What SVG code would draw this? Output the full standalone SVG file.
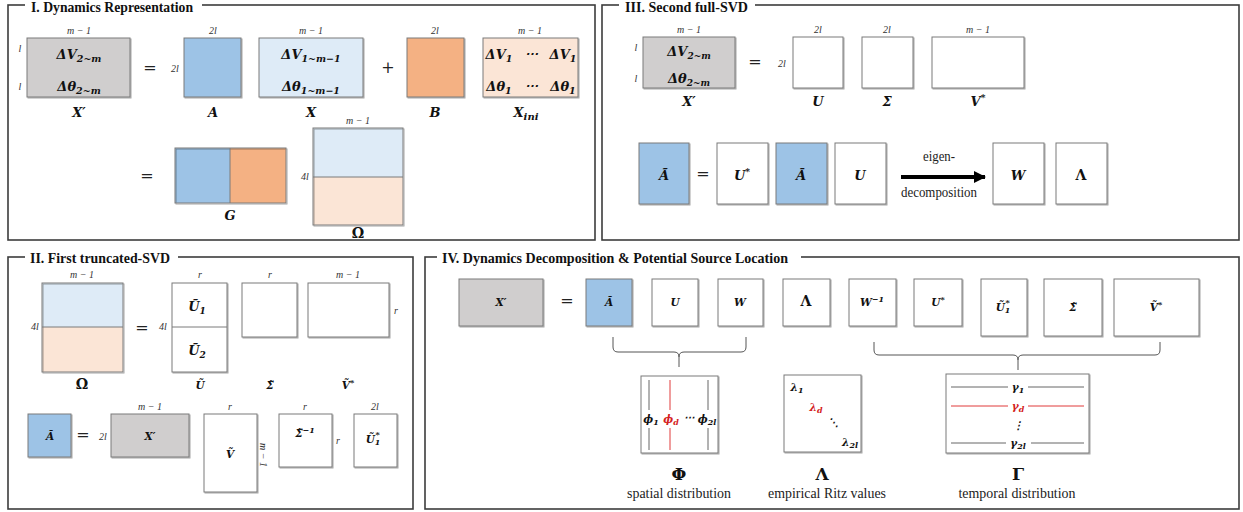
<svg xmlns="http://www.w3.org/2000/svg" width="1243" height="512" viewBox="0 0 1243 512">
<defs>
  <filter id="sh" x="-10%" y="-10%" width="130%" height="130%">
    <feDropShadow dx="1" dy="1" stdDeviation="0.6" flood-color="#000" flood-opacity="0.35"/>
  </filter>
  <marker id="arr" markerWidth="14" markerHeight="14" refX="11" refY="7" orient="auto" markerUnits="userSpaceOnUse">
    <path d="M0,1 L12,7 L0,13 Z" fill="#000"/>
  </marker>
  <style>
    .frame{fill:none;stroke:#3c3c3c;stroke-width:1.6}
    .tbg{fill:#fff}
    .ttl{font-family:"Liberation Serif","Times New Roman",Tinos,"DejaVu Serif",serif;font-weight:bold;font-size:14px;fill:#111}
    .dim{font-family:"Liberation Serif","Times New Roman",Tinos,"DejaVu Serif",serif;font-style:italic;font-size:10px;fill:#333;text-anchor:middle}
    .mx{font-family:"DejaVu Serif",serif;font-weight:bold;font-style:italic;font-size:13px;fill:#111;text-anchor:middle}
    .ms{font-family:"DejaVu Serif",serif;font-weight:bold;font-style:italic;font-size:10.5px;fill:#111;text-anchor:middle}
    .lbl{font-family:"DejaVu Serif",serif;font-weight:bold;font-style:italic;font-size:13px;fill:#111;text-anchor:middle}
    .up{font-family:"DejaVu Serif",serif;font-weight:bold;font-size:14px;fill:#111;text-anchor:middle}
    .gk{font-family:"DejaVu Serif",serif;font-weight:bold;font-size:17px;fill:#111;text-anchor:middle}
    .op{font-family:"DejaVu Serif",serif;font-size:16px;fill:#222;text-anchor:middle}
    .txt{font-family:"Liberation Serif","Times New Roman",Tinos,"DejaVu Serif",serif;font-size:14px;fill:#222;text-anchor:middle}
    .red{fill:#d42020}
    .box{stroke:#7a7a7a;stroke-width:1;filter:url(#sh)}
    .edge{fill:none;stroke:#7a7a7a;stroke-width:1}
    .gray{fill:#d0cece}
    .blue{fill:#9dc3e6}
    .lblue{fill:#deebf7}
    .orange{fill:#f4b183}
    .lorange{fill:#fbe5d6}
    .white{fill:#fff}
    .brace{fill:none;stroke:#555;stroke-width:1}
    .ln{stroke:#666;stroke-width:1}
    .lnr{stroke:#e03a3a;stroke-width:1}
  </style>
</defs>
<rect width="1243" height="512" fill="#fff"/>

<!-- ============ Panel frames ============ -->
<g id="frames">
  <rect class="frame" x="8" y="5" width="587" height="235"/>
  <rect class="tbg" x="25" y="0" width="177" height="13"/>
  <text class="ttl" x="31" y="12" textLength="162" lengthAdjust="spacingAndGlyphs">I. Dynamics Representation</text>

  <rect class="frame" x="602" y="5" width="637" height="235"/>
  <rect class="tbg" x="619" y="0" width="136" height="13"/>
  <text class="ttl" x="625" y="12" textLength="123" lengthAdjust="spacingAndGlyphs">III. Second full-SVD</text>

  <rect class="frame" x="8" y="257" width="405" height="252"/>
  <rect class="tbg" x="25" y="250" width="153" height="13"/>
  <text class="ttl" x="30" y="263" textLength="140" lengthAdjust="spacingAndGlyphs">II. First truncated-SVD</text>

  <rect class="frame" x="425" y="257" width="814" height="252"/>
  <rect class="tbg" x="437" y="250" width="364" height="13"/>
  <text class="ttl" x="442" y="263" textLength="346" lengthAdjust="spacingAndGlyphs">IV. Dynamics Decomposition &amp; Potential Source Location</text>
</g>

<!-- ============ Panel I ============ -->
<g id="p1-Xp">
  <rect class="box gray" x="27" y="38" width="103" height="59"/>
  <text class="dim" x="79" y="34">m − 1</text>
  <text class="dim" x="20" y="52">l</text>
  <text class="dim" x="20" y="90">l</text>
  <text class="mx" x="79" y="59">ΔV<tspan font-size="9.5" dy="3">2~m</tspan></text>
  <text class="mx" x="79" y="91">Δθ<tspan font-size="9.5" dy="3">2~m</tspan></text>
  <text class="lbl" x="79" y="117">X′</text>
</g>
<text class="op" x="150" y="73">=</text>
<g id="p1-A">
  <text class="dim" x="175" y="72">2l</text>
  <rect class="box blue" x="184" y="38" width="57" height="59"/>
  <text class="dim" x="213" y="34">2l</text>
  <text class="lbl" x="213" y="117">A</text>
</g>
<g id="p1-X">
  <rect class="box lblue" x="259" y="38" width="104" height="59"/>
  <text class="dim" x="311" y="34">m − 1</text>
  <text class="mx" x="311" y="59">ΔV<tspan font-size="9.5" dy="3">1~m−1</tspan></text>
  <text class="mx" x="311" y="91">Δθ<tspan font-size="9.5" dy="3">1~m−1</tspan></text>
  <text class="lbl" x="311" y="117">X</text>
</g>
<text class="op" x="388" y="73">+</text>
<g id="p1-B">
  <rect class="box orange" x="407" y="38" width="57" height="59"/>
  <text class="dim" x="435" y="34">2l</text>
  <text class="lbl" x="435" y="117">B</text>
</g>
<g id="p1-Xini">
  <rect class="box lorange" x="483" y="38" width="95" height="59"/>
  <text class="dim" x="530" y="34">m − 1</text>
  <text class="mx" x="499" y="59">ΔV<tspan font-size="9.5" dy="3">1</tspan></text>
  <text class="mx" x="531" y="58" font-style="normal" font-weight="normal">⋯</text>
  <text class="mx" x="563" y="59">ΔV<tspan font-size="9.5" dy="3">1</tspan></text>
  <text class="mx" x="499" y="91">Δθ<tspan font-size="9.5" dy="3">1</tspan></text>
  <text class="mx" x="531" y="90" font-style="normal" font-weight="normal">⋯</text>
  <text class="mx" x="563" y="91">Δθ<tspan font-size="9.5" dy="3">1</tspan></text>
  <text class="lbl" x="526" y="117">X<tspan font-size="10" dy="3">ini</tspan></text>
</g>
<text class="op" x="147" y="181">=</text>
<g id="p1-G">
  <rect class="blue" x="175" y="148" width="55" height="55"/>
  <rect class="orange" x="230" y="148" width="56" height="55"/>
  <rect class="box" fill="none" x="175" y="148" width="111" height="55"/>
  <line class="edge" x1="230" y1="148" x2="230" y2="203"/>
  <text class="lbl" x="230" y="220">G</text>
</g>
<g id="p1-Omega">
  <rect class="lblue" x="313" y="128" width="90" height="49"/>
  <rect class="lorange" x="313" y="177" width="90" height="48"/>
  <rect class="box" fill="none" x="313" y="128" width="90" height="97"/>
  <line class="edge" x1="313" y1="177" x2="403" y2="177"/>
  <text class="dim" x="358" y="124">m − 1</text>
  <text class="dim" x="305" y="180">4l</text>
  <text class="up" x="358" y="238">Ω</text>
</g>

<!-- ============ Panel III ============ -->
<g id="p3-Xp">
  <rect class="box gray" x="643" y="37" width="92" height="51"/>
  <text class="dim" x="689" y="33">m − 1</text>
  <text class="dim" x="636" y="51">l</text>
  <text class="dim" x="636" y="82">l</text>
  <text class="mx" x="689" y="56" font-size="12">ΔV<tspan font-size="9" dy="3">2~m</tspan></text>
  <text class="mx" x="689" y="83" font-size="12">Δθ<tspan font-size="9" dy="3">2~m</tspan></text>
  <text class="lbl" x="689" y="106">X′</text>
</g>
<text class="op" x="755" y="67">=</text>
<g id="p3-U">
  <text class="dim" x="782" y="67">2l</text>
  <rect class="box white" x="793" y="37" width="50" height="51"/>
  <text class="dim" x="818" y="33">2l</text>
  <text class="lbl" x="818" y="106">U</text>
</g>
<g id="p3-S">
  <rect class="box white" x="862" y="37" width="51" height="51"/>
  <text class="dim" x="887" y="33">2l</text>
  <text class="lbl" x="887" y="106">Σ</text>
</g>
<g id="p3-V">
  <rect class="box white" x="932" y="37" width="92" height="51"/>
  <text class="dim" x="978" y="33">m − 1</text>
  <text class="lbl" x="978" y="106">V<tspan font-size="9" dy="-5">*</tspan></text>
</g>
<g id="p3-Atil">
  <rect class="box blue" x="639" y="143" width="50" height="61"/>
  <text class="lbl" x="664" y="180">Ã</text>
</g>
<text class="op" x="703" y="179">=</text>
<g id="p3-Us">
  <rect class="box white" x="717" y="143" width="51" height="61"/>
  <text class="lbl" x="742" y="180">U<tspan font-size="9" dy="-5">*</tspan></text>
</g>
<g id="p3-Abar">
  <rect class="box blue" x="776" y="143" width="51" height="61"/>
  <text class="lbl" x="801" y="180">Ā</text>
</g>
<g id="p3-U2">
  <rect class="box white" x="835" y="143" width="51" height="61"/>
  <text class="lbl" x="860" y="180">U</text>
</g>
<g id="p3-W">
  <rect class="box white" x="993" y="143" width="51" height="61"/>
  <text class="lbl" x="1018" y="180">W</text>
</g>
<g id="p3-L">
  <rect class="box white" x="1056" y="143" width="51" height="61"/>
  <text class="up" x="1081" y="180">Λ</text>
</g>

<!-- ============ Panel II ============ -->
<g id="p2-Omega">
  <rect class="lblue" x="42" y="283" width="81" height="44"/>
  <rect class="lorange" x="42" y="327" width="81" height="45"/>
  <rect class="box" fill="none" x="42" y="283" width="81" height="89"/>
  <line class="edge" x1="42" y1="327" x2="123" y2="327"/>
  <text class="dim" x="82" y="278">m − 1</text>
  <text class="dim" x="35" y="330">4l</text>
  <text class="up" x="82" y="389">Ω</text>
</g>
<text class="op" x="142" y="333">=</text>
<g id="p2-U">
  <text class="dim" x="163" y="330">4l</text>
  <rect class="box white" x="172" y="283" width="55" height="89"/>
  <line class="edge" x1="172" y1="327" x2="227" y2="327"/>
  <text class="dim" x="200" y="278">r</text>
  <text class="mx" x="197" y="311" font-size="12">Ũ<tspan font-size="9" dy="3">1</tspan></text>
  <text class="mx" x="197" y="355" font-size="12">Ũ<tspan font-size="9" dy="3">2</tspan></text>
  <text class="ms" x="200" y="389">Ũ</text>
</g>
<g id="p2-S">
  <rect class="box white" x="242" y="283" width="55" height="54"/>
  <text class="dim" x="270" y="278">r</text>
  <text class="ms" x="270" y="389">Σ̃</text>
</g>
<g id="p2-V">
  <rect class="box white" x="308" y="283" width="81" height="54"/>
  <text class="dim" x="348" y="278">m − 1</text>
  <text class="dim" x="396" y="314">r</text>
  <text class="ms" x="348" y="389">Ṽ<tspan font-size="8" dy="-4">*</tspan></text>
</g>
<g id="p2-Abar">
  <rect class="box blue" x="28" y="414" width="43" height="43"/>
  <text class="ms" x="50" y="440">Ā</text>
</g>
<text class="op" x="83" y="440" font-size="14">=</text>
<g id="p2-Xp">
  <text class="dim" x="103" y="440">2l</text>
  <rect class="box gray" x="111" y="414" width="78" height="43"/>
  <text class="dim" x="150" y="410">m − 1</text>
  <text class="ms" x="150" y="440">X′</text>
</g>
<g id="p2-Vt">
  <rect class="box white" x="204" y="414" width="53" height="78"/>
  <text class="dim" x="230" y="410">r</text>
  <text class="ms" x="230" y="458">Ṽ</text>
  <text class="dim" transform="translate(260,455) rotate(90)" x="0" y="0">m − 1</text>
</g>
<g id="p2-Sinv">
  <rect class="box white" x="279" y="414" width="53" height="53"/>
  <text class="dim" x="305" y="410">r</text>
  <text class="ms" x="305" y="437">Σ̃<tspan font-size="8" dy="-4">−1</tspan></text>
  <text class="dim" x="338" y="444">r</text>
</g>
<g id="p2-U1s">
  <rect class="box white" x="354" y="414" width="43" height="53"/>
  <text class="dim" x="375" y="410">2l</text>
  <text class="ms" x="373" y="443">Ũ<tspan font-size="8" dy="2">1</tspan><tspan font-size="8" dx="-5" dy="-8">*</tspan></text>
</g>

<!-- ============ Panel IV ============ -->
<g id="p4-Xp">
  <rect class="box gray" x="459" y="279" width="84" height="47"/>
  <text class="ms" x="501" y="306">X′</text>
</g>
<text class="op" x="567" y="306" font-size="14">=</text>
<g id="p4-Abar">
  <rect class="box blue" x="586" y="279" width="46" height="47"/>
  <text class="ms" x="609" y="306">Ā</text>
</g>
<g id="p4-U">
  <rect class="box white" x="652" y="279" width="46" height="47"/>
  <text class="ms" x="675" y="306">U</text>
</g>
<g id="p4-W">
  <rect class="box white" x="718" y="279" width="45" height="47"/>
  <text class="ms" x="740" y="306">W</text>
</g>
<g id="p4-L">
  <rect class="box white" x="783" y="279" width="47" height="47"/>
  <text class="up" x="806" y="306" font-size="11">Λ</text>
</g>
<g id="p4-Winv">
  <rect class="box white" x="849" y="279" width="47" height="47"/>
  <text class="ms" x="872" y="306">W<tspan font-size="8" dy="-4">−1</tspan></text>
</g>
<g id="p4-Us">
  <rect class="box white" x="914" y="279" width="48" height="47"/>
  <text class="ms" x="938" y="306">U<tspan font-size="8" dy="-4">*</tspan></text>
</g>
<g id="p4-U1s">
  <rect class="box white" x="981" y="279" width="46" height="57"/>
  <text class="ms" x="1003" y="311">Ũ<tspan font-size="8" dy="2">1</tspan><tspan font-size="8" dx="-5" dy="-8">*</tspan></text>
</g>
<g id="p4-S">
  <rect class="box white" x="1044" y="279" width="58" height="57"/>
  <text class="ms" x="1073" y="311">Σ̃</text>
</g>
<g id="p4-V">
  <rect class="box white" x="1114" y="279" width="85" height="57"/>
  <text class="ms" x="1156" y="311">Ṽ<tspan font-size="8" dy="-4">*</tspan></text>
</g>

<g id="p4-Phi">
  <rect class="box white" x="641" y="376" width="77" height="77"/>
  <line class="ln" x1="649" y1="380" x2="649" y2="410"/>
  <line class="ln" x1="649" y1="428" x2="649" y2="450"/>
  <line class="lnr" x1="670" y1="380" x2="670" y2="410"/>
  <line class="lnr" x1="670" y1="428" x2="670" y2="450"/>
  <line class="ln" x1="708" y1="380" x2="708" y2="410"/>
  <line class="ln" x1="708" y1="428" x2="708" y2="450"/>
  <text class="ms" x="651" y="423" font-size="12">ϕ<tspan font-size="8" dy="2">1</tspan></text>
  <text class="ms red" x="671" y="423" font-size="12">ϕ<tspan font-size="8" dy="2">d</tspan></text>
  <text class="ms" x="689" y="421" font-style="normal" font-weight="normal">⋯</text>
  <text class="ms" x="707" y="423" font-size="12">ϕ<tspan font-size="8" dy="2">2l</tspan></text>
  <text class="gk" x="679" y="480">Φ</text>
  <text class="txt" x="679" y="498" textLength="104" lengthAdjust="spacingAndGlyphs">spatial distribution</text>
</g>
<g id="p4-Lambda">
  <rect class="box white" x="784" y="375" width="77" height="77"/>
  <text class="ms" x="797" y="391">λ<tspan font-size="8" dy="2">1</tspan></text>
  <text class="ms red" x="816" y="411">λ<tspan font-size="8" dy="2">d</tspan></text>
  <text class="ms" x="833" y="426" font-style="normal" font-weight="normal">⋱</text>
  <text class="ms" x="850" y="446">λ<tspan font-size="8" dy="2">2l</tspan></text>
  <text class="gk" x="822" y="480">Λ</text>
  <text class="txt" x="827" y="498" textLength="118" lengthAdjust="spacingAndGlyphs">empirical Ritz values</text>
</g>
<g id="p4-Gamma">
  <rect class="box white" x="946" y="374" width="143" height="79"/>
  <line class="ln" stroke="#888" x1="951" y1="387" x2="1008" y2="387"/>
  <line class="ln" stroke="#888" x1="1028" y1="387" x2="1084" y2="387"/>
  <line class="lnr" x1="951" y1="406" x2="1008" y2="406"/>
  <line class="lnr" x1="1028" y1="406" x2="1084" y2="406"/>
  <line class="ln" stroke="#444" x1="951" y1="443" x2="1006" y2="443"/>
  <line class="ln" stroke="#444" x1="1031" y1="443" x2="1084" y2="443"/>
  <text class="ms" x="1018" y="391">γ<tspan font-size="8" dy="2">1</tspan></text>
  <text class="ms red" x="1018" y="410">γ<tspan font-size="8" dy="2">d</tspan></text>
  <text class="ms" x="1018" y="429" font-style="normal" font-weight="normal">⋮</text>
  <text class="ms" x="1018" y="447">γ<tspan font-size="8" dy="2">2l</tspan></text>
  <text class="gk" x="1018" y="480">Γ</text>
  <text class="txt" x="1017" y="498" textLength="117" lengthAdjust="spacingAndGlyphs">temporal distribution</text>
</g>

<!-- ============ Connectors ============ -->
<g id="connectors">
  <line x1="901" y1="177" x2="985" y2="177" stroke="#000" stroke-width="4" marker-end="url(#arr)"/>
  <text class="txt" x="939" y="161" textLength="32" lengthAdjust="spacingAndGlyphs">eigen-</text>
  <text class="txt" x="939" y="197" textLength="76" lengthAdjust="spacingAndGlyphs">decomposition</text>
  <path class="brace" d="M613,337 V347 Q613,352 618,352 H674 Q679,352 679,357 V367 M679,357 Q679,352 684,352 H741 Q746,352 746,347 V337"/>
  <path class="brace" d="M874,342 V350 Q874,355 879,355 H1013 Q1018,355 1018,360 V370 M1018,360 Q1018,355 1023,355 H1155 Q1160,355 1160,350 V342"/>
</g>
</svg>
